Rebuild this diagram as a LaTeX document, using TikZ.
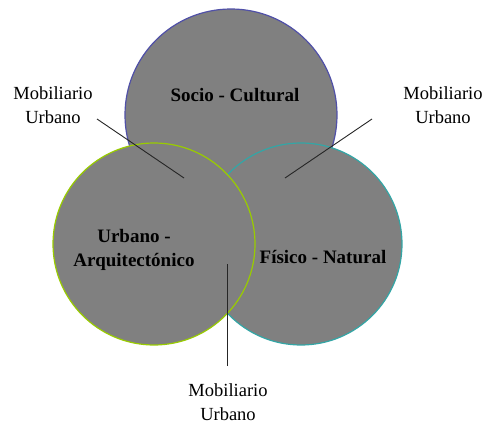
\documentclass[tikz,border=0pt]{standalone}
\usepackage{fontspec}
\setmainfont{Liberation Serif}
\definecolor{fillgray}{RGB}{128,128,128}
\definecolor{topblue}{RGB}{80,80,168}
\definecolor{leftgreen}{RGB}{153,204,0}
\definecolor{rightteal}{RGB}{51,166,166}
\begin{document}
\begin{tikzpicture}[x=1pt,y=-1pt,
  setc/.style={circle,fill=fillgray,line width=1.2pt,inner sep=0pt},
  lbl/.style={align=center,font=\fontsize{18.5}{24}\selectfont},
  title/.style={align=center,font=\fontsize{19}{24}\selectfont\bfseries},
  pointer/.style={draw=black!85,line width=0.9pt}]
\useasboundingbox (0,0) rectangle (488,423);
\node[setc,draw=topblue,minimum size=212pt] (sc) at (231,115) {};
\node[setc,draw=rightteal,minimum size=202pt] (fn) at (301,244) {};
\node[setc,draw=leftgreen,minimum size=202pt] (ua) at (154,244) {};
\node[title] (tsc) at (235,95) {Socio - Cultural};
\node[title] (tua) at (134,250) {Urbano -\\Arquitectónico};
\node[title] (tfn) at (323,257) {Físico - Natural};
\node[lbl] (m1) at (53,105) {Mobiliario\\Urbano};
\node[lbl] (m2) at (443,105) {Mobiliario\\Urbano};
\node[lbl] (m3) at (228,402) {Mobiliario\\Urbano};
\coordinate (a1) at (97,119);
\coordinate (b1) at (184,178);
\coordinate (a2) at (372,119);
\coordinate (b2) at (285,178);
\coordinate (a3) at (227,366);
\coordinate (b3) at (227,264);
\draw[pointer] (a1) -- (b1);
\draw[pointer] (a2) -- (b2);
\draw[pointer] (a3) -- (b3);
\end{tikzpicture}
\end{document}
